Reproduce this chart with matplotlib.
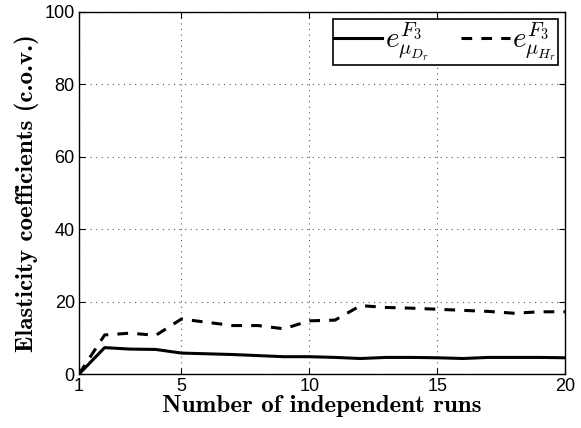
import matplotlib
matplotlib.use("Agg")
import matplotlib.pyplot as plt

runs = list(range(1, 21))
e_D = [0, 7.3, 6.9, 6.8, 5.8, 5.6, 5.4, 5.1, 4.8, 4.8, 4.6, 4.3, 4.6, 4.6, 4.5, 4.3, 4.6, 4.6, 4.6, 4.5]
e_H = [0, 10.8, 11.3, 10.7, 15.2, 14.3, 13.4, 13.4, 12.5, 14.7, 14.9, 18.9, 18.4, 18.2, 17.9, 17.6, 17.3, 16.8, 17.2, 17.2]
xticks = [1, 5, 10, 15, 20]
yticks = [0, 20, 40, 60, 80, 100]

plt.rcParams['mathtext.fontset'] = 'cm'
fig = plt.figure(figsize=(5.81, 4.28), dpi=100)
ax = fig.add_axes([0.136, 0.126, 0.837, 0.846])
ax.plot(runs, e_D, 'k-', lw=2.2, label=r'$e^{F_3}_{\mu_{D_r}}$')
ax.plot(runs, e_H, 'k--', lw=2.2, dashes=(3.5, 3), label=r'$e^{F_3}_{\mu_{H_r}}$')
ax.set_xlim(1, 20)
ax.set_ylim(0, 100)
ax.set_xticks(xticks)
ax.set_yticks(yticks)
ax.grid(True, linestyle=(0, (1, 4)), color='0.35', lw=0.8)
ax.tick_params(direction='in', top=True, right=True, labelsize=13, length=4, pad=3)
for lab in ax.get_xticklabels() + ax.get_yticklabels():
    lab.set_family('Liberation Sans')
for s in ax.spines.values():
    s.set_linewidth(1.0)
ax.set_xlabel('Number of independent runs', family='cmb10', fontsize=18, labelpad=0)
ax.set_ylabel('Elasticity coefficients (c.o.v.)', family='cmb10', fontsize=18, labelpad=4)
leg = ax.legend(loc='upper right', ncol=2, fontsize=21, frameon=True, fancybox=False,
                edgecolor='k', handlelength=1.65, columnspacing=1.1, handletextpad=0.1,
                borderpad=0.05, borderaxespad=0.25, framealpha=1)
leg.get_frame().set_linewidth(1.2)
fig.savefig('out.png', dpi=100)
